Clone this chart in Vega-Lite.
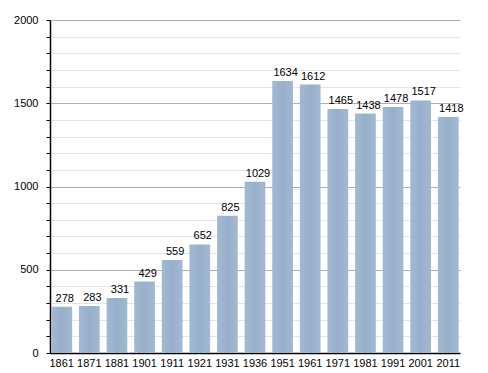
{
  "$schema": "https://vega.github.io/schema/vega-lite/v6.json",
  "width": 410,
  "height": 333,
  "autosize": "none",
  "padding": {"left": 50, "top": 20, "right": 28, "bottom": 20},
  "background": "white",
  "config": {"view": {"stroke": null}, "font": "Liberation Sans"},
  "data": {"values": [
    {"year": "1861", "pop": 278},
    {"year": "1871", "pop": 283},
    {"year": "1881", "pop": 331},
    {"year": "1901", "pop": 429},
    {"year": "1911", "pop": 559},
    {"year": "1921", "pop": 652},
    {"year": "1931", "pop": 825},
    {"year": "1936", "pop": 1029},
    {"year": "1951", "pop": 1634},
    {"year": "1961", "pop": 1612},
    {"year": "1971", "pop": 1465},
    {"year": "1981", "pop": 1438},
    {"year": "1991", "pop": 1478},
    {"year": "2001", "pop": 1517},
    {"year": "2011", "pop": 1418}
  ]},
  "encoding": {
    "x": {"field": "year", "type": "ordinal", "sort": null,
      "scale": {"paddingInner": 0.25, "paddingOuter": 0.05},
      "axis": {"title": null, "labelAngle": 0, "ticks": false, "domainColor": "#000", "domainWidth": 1.5, "labelColor": "#000", "labelFontSize": 11, "labelPadding": 4}},
    "y": {"field": "pop", "type": "quantitative",
      "scale": {"domain": [0, 2000], "nice": false},
      "axis": {"title": null,
        "values": [0,100,200,300,400,500,600,700,800,900,1000,1100,1200,1300,1400,1500,1600,1700,1800,1900,2000],
        "labelExpr": "datum.value % 500 === 0 ? datum.label : ''",
        "format": "d",
        "labelColor": "#000", "labelFontSize": 11, "labelPadding": 8,
        "domainColor": "#000", "domainWidth": 1.5,
        "tickColor": "#000", "tickSize": 4,
        "gridColor": {"condition": {"test": "datum.value % 500 === 0", "value": "#b0b0b0"}, "value": "#e4e4e4"}}}
  },
  "layer": [
    {"mark": {"type": "bar", "color": {"gradient": "linear", "x1": 0, "x2": 1, "y1": 0, "y2": 0, "stops": [{"offset": 0, "color": "#a3b9d2"}, {"offset": 0.5, "color": "#97afcb"}, {"offset": 1, "color": "#a3b9d2"}]}}},
    {"mark": {"type": "text", "dy": -8, "dx": 3, "fontSize": 11, "color": "#000"},
      "encoding": {"text": {"field": "pop", "type": "quantitative"}}}
  ]
}
